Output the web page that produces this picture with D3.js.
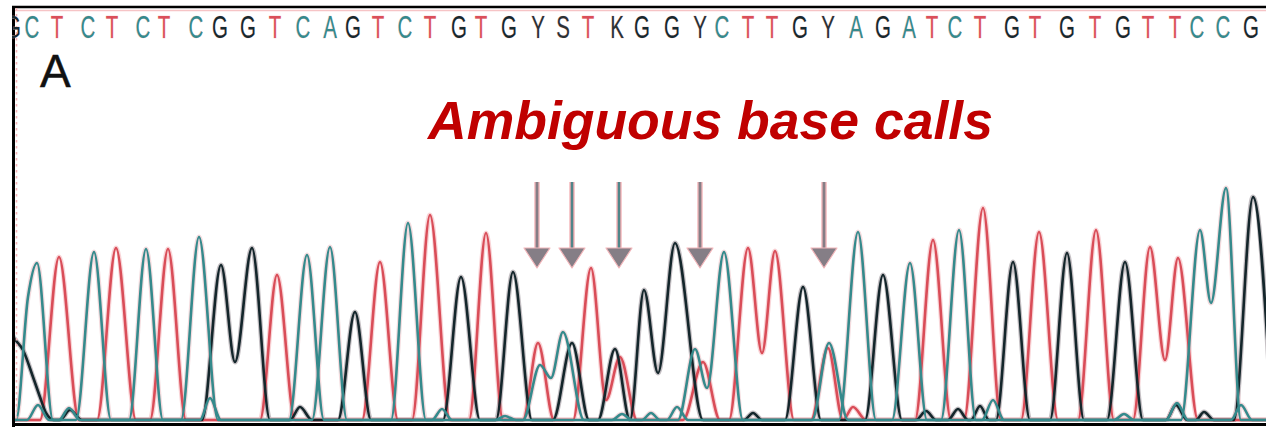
<!DOCTYPE html>
<html>
<head>
<meta charset="utf-8">
<script src="https://cdn.jsdelivr.net/npm/d3@7"></script>
<style>
  html, body { margin: 0; padding: 0; background: #ffffff; }
  svg { display: block; }
</style>
</head>
<body>
<script>
// Base calls printed above the trace, and the scan position of each call
const calls = "GCTCTCTCGGTCAGTCTGTGYSTKGGYCTTGYAGATCTGTGTGTTCCG".split("");
const callScans = [13, 32, 57, 88, 112, 143, 164, 196, 220, 248, 275, 303, 330, 353, 378, 405,
  430, 459, 481, 509, 538, 563, 588, 617, 642, 672, 700, 722, 748, 772, 800, 828,
  856, 883, 909, 932, 955, 980, 1012, 1035, 1067, 1095, 1123, 1148, 1175, 1197, 1223, 1251];

// Fluorescence traces: [scan, signal] at peak tops, valleys and baseline contacts
const traceT = [[14,0],
  [40,0],[59,652],[79,0], [97,0],[116,688],[136,0], [150,0],[168,684],[186,0],
  [260,0],[277,580],[295,0], [362,0],[380,632],[398,0], [412,0],[430,820],[450,0],
  [469,0],[486,748],[503,0], [523,0],[538,308],[554,0],
  [573,0],[591,608],[606,80],[620,252],[637,0], [683,0],[703,232],[720,0],
  [729,0],[748,688],[762,268],[775,676],[794,0], [811,0],[828,288],[843,0],[853,52],[866,0],
  [915,0],[933,720],[951,0], [964,0],[983,848],[1001,0], [1021,0],[1039,752],[1058,0],
  [1078,0],[1096,760],[1114,0], [1133,0],[1150,692],[1165,240],[1178,648],[1198,0],
  [1266,0]];

const traceC = [[14,0],
  [16,0],[28,492],[37,628],[53,0], [76,0],[94,672],[111,0], [129,0],[146,684],[163,0],
  [181,0],[199,732],[218,0], [289,0],[307,660],[324,0], [391,0],[408,788],[426,0],
  [523,0],[540,220],[551,168],[563,352],[584,0],
  [678,0],[695,284],[707,128],[724,672],[743,0], [812,0],[829,308],[848,0],
  [941,0],[959,760],[976,0], [1181,0],[1200,760],[1211,468],[1226,928],[1241,0],
  [1266,0]];

const traceA = [[14,0],
  [27,0],[38,60],[49,0], [59,0],[69,48],[80,0], [200,0],[210,88],[221,0],
  [312,0],[330,692],[347,0], [432,0],[442,44],[452,0], [495,0],[505,16],[516,0],
  [612,0],[622,24],[632,0],[642,0],[651,28],[660,0],[667,0],[677,52],[688,0],
  [839,0],[858,752],[876,0], [892,0],[910,628],[927,0], [982,0],[993,80],[1004,0],
  [1114,0],[1124,24],[1134,0], [1166,0],[1177,68],[1188,0], [1231,0],[1241,60],[1252,0],
  [1266,0]];

const traceG = [
  [2,430],[14,328],[23,280],[33,172],[40,92],[46,28],[54,0], [60,0],[70,40],[82,0],
  [202,0],[221,620],[235,232],[252,688],[270,0], [290,0],[300,52],[312,0],
  [338,0],[355,432],[371,0], [443,0],[461,572],[480,0], [496,0],[513,592],[532,0],
  [553,0],[572,308],[589,0], [598,0],[615,284],[630,0],
  [644,520],[658,188],[675,708],[703,0], [744,0],[753,28],[762,0],
  [785,0],[803,532],[821,0], [865,0],[883,580],[902,0],
  [916,0],[926,36],[936,0], [948,0],[958,44],[968,0], [971,0],[980,56],[989,0],
  [996,0],[1013,632],[1030,0], [1050,0],[1067,668],[1084,0], [1107,0],[1125,632],[1143,0],
  [1166,0],[1176,60],[1187,0], [1196,0],[1204,32],[1214,0], [1234,0],[1253,892],[1272,0]];

// Scans flagged as ambiguous
const arrowScans = [537, 572, 619, 700, 824];
const arrowTealCore = [false, true, true, false, false];

const titleText = "Ambiguous base calls";
const panelLabel = "A";

// ---- drawing ----
const W = 1266, H = 427;
const svg = d3.select("body").append("svg").attr("width", W).attr("height", H);

const x = d3.scaleLinear().domain([0, 1266]).range([0, 1266]);
const y = d3.scaleLinear().domain([0, 1000]).range([420, 170]);

const plotLeft = 14, plotTop = 11, plotBottom = 422;

const defs = svg.append("defs");
defs.append("clipPath").attr("id", "plot")
  .append("rect").attr("x", plotLeft).attr("y", plotTop)
  .attr("width", W - plotLeft).attr("height", plotBottom - plotTop);
defs.append("clipPath").attr("id", "seqclip")
  .append("rect").attr("x", 12).attr("y", 11).attr("width", W).attr("height", 34);

const baseColor = { A: "#358a8c", C: "#358a8c", T: "#da4f5a", G: "#16292e" };
const letterColor = ch => baseColor[ch] || "#2a3236";

const channels = [
  { data: traceT, core: "#d94d58", halo: "#f4aab0" },
  { data: traceG, core: "#14262b", halo: "#8b8189" },
  { data: traceA, core: "#358a8c", halo: "#e9b8bd" },
  { data: traceC, core: "#358a8c", halo: "#e9b8bd" }
];

const line = d3.line().x(d => x(d[0])).y(d => y(d[1])).curve(d3.curveMonotoneX);

const traces = svg.append("g").attr("clip-path", "url(#plot)");
channels.forEach(c => {
  traces.append("path").attr("d", line(c.data)).attr("fill", "none")
    .attr("stroke", c.halo).attr("stroke-width", 5).attr("stroke-opacity", 0.5)
    .attr("stroke-linejoin", "round");
});
channels.forEach(c => {
  traces.append("path").attr("d", line(c.data)).attr("fill", "none")
    .attr("stroke", c.core).attr("stroke-width", 2.6)
    .attr("stroke-linejoin", "round");
});

// frame: top rule, left rule, baseline
svg.append("line").attr("x1", plotLeft - 2).attr("x2", W).attr("y1", 7).attr("y2", 7)
  .attr("stroke", "#000").attr("stroke-width", 2.6);
svg.append("line").attr("x1", plotLeft).attr("x2", W).attr("y1", 10.5).attr("y2", 10.5)
  .attr("stroke", "#f6c4c6").attr("stroke-width", 1.6);
svg.append("line").attr("x1", 13.5).attr("x2", 13.5).attr("y1", 6).attr("y2", H)
  .attr("stroke", "#000").attr("stroke-width", 3);
svg.append("line").attr("x1", 16.5).attr("x2", 16.5).attr("y1", 8).attr("y2", 420)
  .attr("stroke", "#f3b3b7").attr("stroke-width", 1.6).attr("stroke-dasharray", "2.5,3.5");
svg.append("line").attr("x1", 12).attr("x2", W).attr("y1", 424.5).attr("y2", 424.5)
  .attr("stroke", "#000").attr("stroke-width", 3.2);

// base-call letters
svg.append("g").attr("clip-path", "url(#seqclip)")
  .selectAll("text").data(calls).join("text")
  .attr("transform", (d, i) => `translate(${x(callScans[i])},38) scale(0.64,1)`)
  .attr("text-anchor", "middle")
  .attr("font-family", "'Liberation Sans', Arial, sans-serif")
  .attr("font-size", 32)
  .attr("fill", d => letterColor(d))
  .attr("stroke", "#f4c0c3").attr("stroke-width", 0.6).attr("paint-order", "stroke")
  .text(d => d);

// panel label
svg.append("text").attr("x", 40).attr("y", 87)
  .attr("font-family", "'Liberation Sans', Arial, sans-serif")
  .attr("font-size", 46).attr("fill", "#111")
  .attr("stroke", "#111").attr("stroke-width", 0.5)
  .text(panelLabel);

// title
svg.append("text").attr("x", 428).attr("y", 139)
  .attr("font-family", "'Liberation Sans', Arial, sans-serif")
  .attr("font-size", 53.5).attr("font-weight", "bold").attr("font-style", "italic")
  .attr("fill", "#c00000")
  .text(titleText);

// arrows
const arrows = svg.append("g");
arrowScans.forEach((s, i) => {
  const ax = x(s);
  arrows.append("line").attr("x1", ax).attr("x2", ax).attr("y1", 182).attr("y2", 252)
    .attr("stroke", "#f5b9bd").attr("stroke-width", 5.5);
  arrows.append("line").attr("x1", ax).attr("x2", ax).attr("y1", 182).attr("y2", 252)
    .attr("stroke", "#857e86").attr("stroke-width", 2.8);
  if (arrowTealCore[i]) {
    arrows.append("line").attr("x1", ax).attr("x2", ax).attr("y1", 182).attr("y2", 250)
      .attr("stroke", "#3a8a8c").attr("stroke-width", 1.4);
  }
  arrows.append("path")
    .attr("d", `M${ax - 13},248 L${ax + 13},248 L${ax},268 Z`)
    .attr("fill", "#857e86").attr("stroke", "#f2b6ba").attr("stroke-width", 1.2)
    .attr("stroke-linejoin", "round");
});
</script>
</body>
</html>
